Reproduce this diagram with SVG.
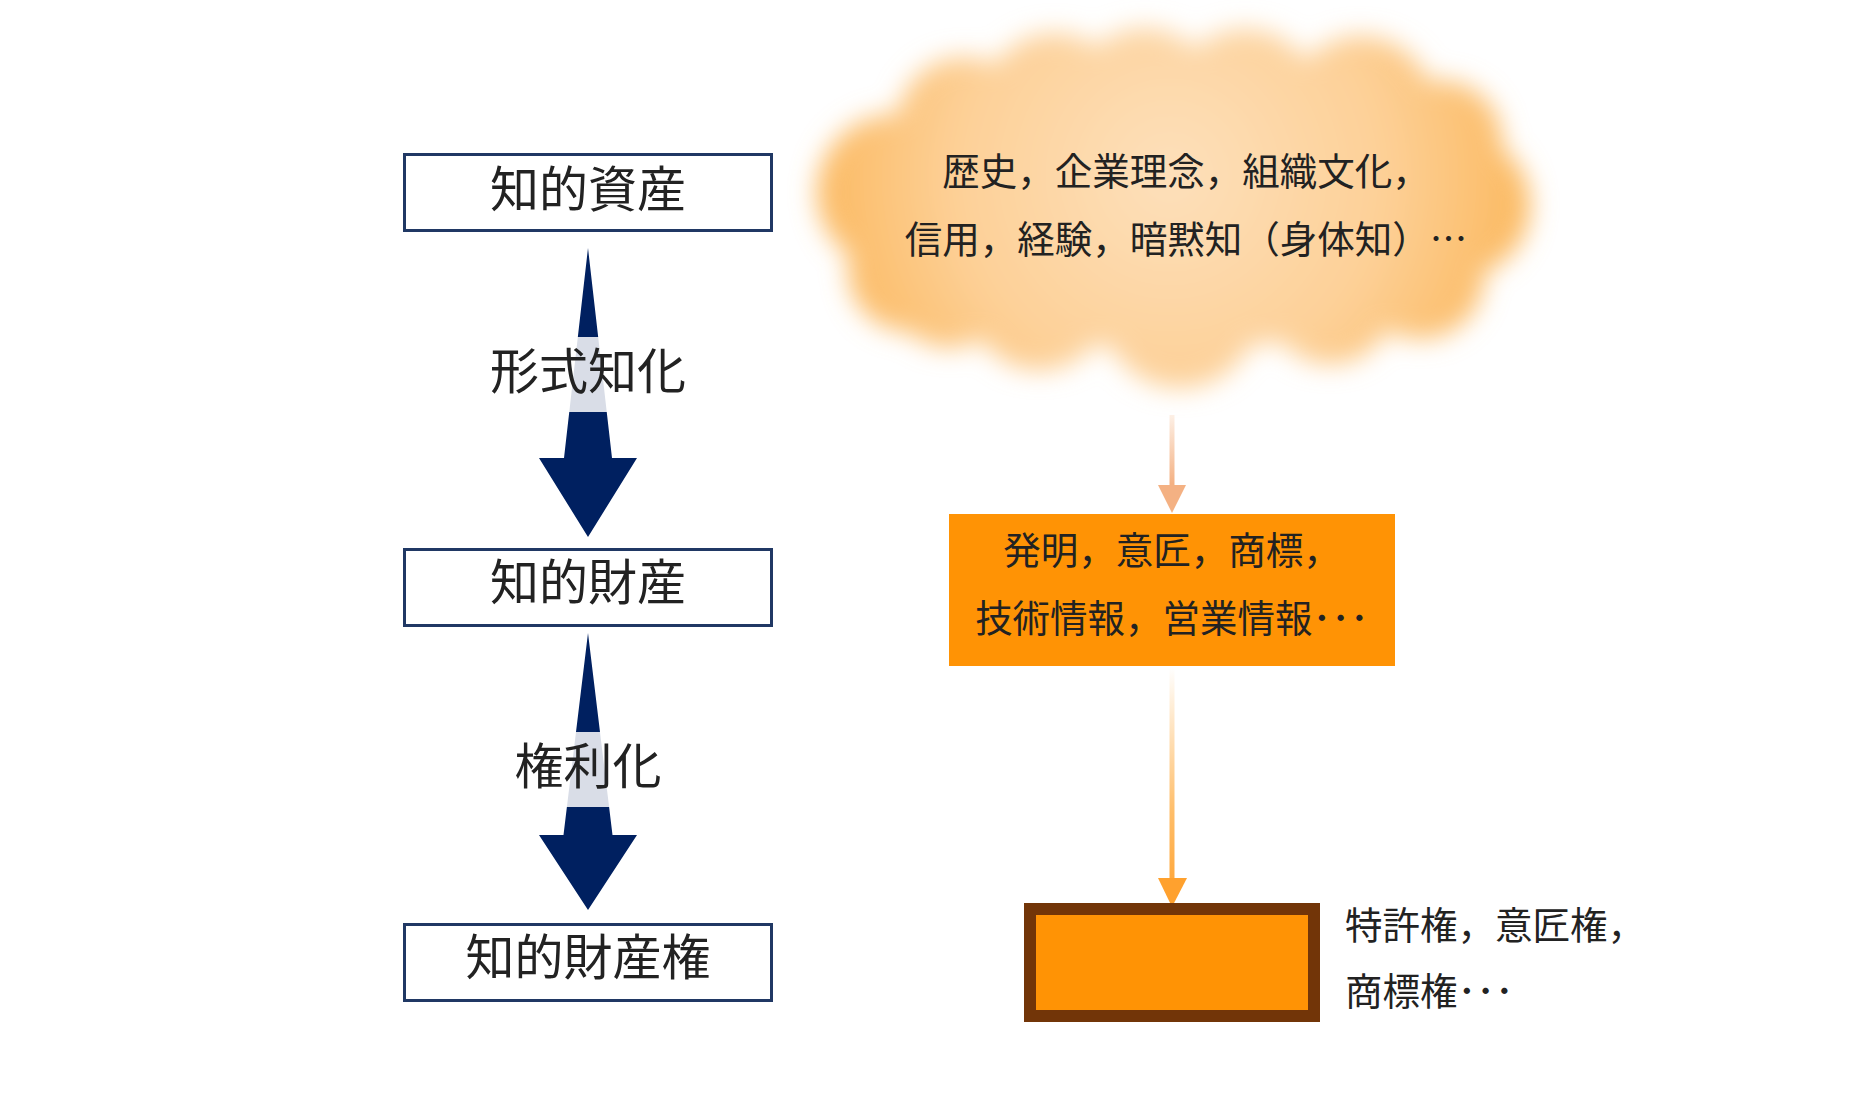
<svg xmlns="http://www.w3.org/2000/svg" width="1860" height="1098" viewBox="0 0 1860 1098">
<style>
.t{font-family:"Noto Sans CJK JP","Noto Sans CJK SC",sans-serif;fill:#222}
.big{font-size:49px;text-anchor:middle}
.mid{font-size:37.5px}
.box{fill:#fff;stroke:#203864;stroke-width:3}
.navy{fill:#002060}
.band{fill:#fff;fill-opacity:0.85}
</style>
<defs>
<filter id="soft" x="-20%" y="-30%" width="140%" height="160%">
<feGaussianBlur stdDeviation="13"/>
</filter>
<radialGradient id="cloudG" gradientUnits="userSpaceOnUse" cx="1170" cy="175" r="390">
<stop offset="0" stop-color="#fde0bb"/>
<stop offset="0.55" stop-color="#fdd097"/>
<stop offset="1" stop-color="#fbb454"/>
</radialGradient>
<linearGradient id="c1" gradientUnits="userSpaceOnUse" x1="0" y1="415" x2="0" y2="513">
<stop offset="0" stop-color="#fdf0e6"/>
<stop offset="0.7" stop-color="#f4b183"/>
<stop offset="1" stop-color="#f4b183"/>
</linearGradient>
<linearGradient id="c2" gradientUnits="userSpaceOnUse" x1="0" y1="667" x2="0" y2="907">
<stop offset="0" stop-color="#ffffff"/>
<stop offset="0.6" stop-color="#ffbe6a"/>
<stop offset="1" stop-color="#ffa12e"/>
</linearGradient>
</defs>

<g id="cloud">
<g fill="url(#cloudG)" filter="url(#soft)">
<ellipse cx="1175" cy="210" rx="305" ry="140"/>
<circle cx="895" cy="192" r="78"/>
<circle cx="910" cy="270" r="62"/>
<circle cx="965" cy="125" r="68"/>
<circle cx="1055" cy="105" r="72"/>
<circle cx="1145" cy="100" r="72"/>
<circle cx="1245" cy="103" r="74"/>
<circle cx="1360" cy="110" r="74"/>
<circle cx="1440" cy="142" r="62"/>
<circle cx="1458" cy="205" r="72"/>
<circle cx="1420" cy="275" r="64"/>
<circle cx="1330" cy="300" r="64"/>
<circle cx="1180" cy="310" r="78"/>
<circle cx="1040" cy="300" r="70"/>
<circle cx="950" cy="290" r="58"/>
</g>
<text class="t mid" x="1186" y="185" text-anchor="middle">歴史，企業理念，組織文化，</text>
<text class="t mid" x="1186" y="253" text-anchor="middle">信用，経験，暗黙知（身体知）…</text>
</g>

<g id="connectors">
<line x1="1172" y1="415" x2="1172" y2="487" stroke="url(#c1)" stroke-width="5"/>
<polygon points="1158,485 1186,485 1172,513" fill="#f4b183"/>
<line x1="1172" y1="667" x2="1172" y2="880" stroke="url(#c2)" stroke-width="5"/>
<polygon points="1158,878 1187,878 1172,907" fill="#ffa12e"/>
</g>

<g id="asset">
<rect class="box" x="404.5" y="154.5" width="367" height="76"/>
<text class="t big" x="588" y="207">知的資産</text>
</g>

<g id="arrow-formal">
<polygon class="navy" points="588,248 612,458 637,458 588,537 539,458 564,458"/>
<rect class="band" x="540" y="337" width="96" height="75"/>
<text class="t big" x="588" y="389">形式知化</text>
</g>

<g id="property">
<rect class="box" x="404.5" y="549.5" width="367" height="76"/>
<text class="t big" x="588" y="600">知的財産</text>
</g>

<g id="arrow-right">
<polygon class="navy" points="588,633 612.5,835 637,835 588,910 539,835 563.5,835"/>
<rect class="band" x="540" y="732" width="96" height="75"/>
<text class="t big" x="588" y="784">権利化</text>
</g>

<g id="ipr">
<rect class="box" x="404.5" y="924.5" width="367" height="76"/>
<text class="t big" x="588" y="975">知的財産権</text>
</g>

<g id="info">
<rect x="949" y="514" width="446" height="152" fill="#ff9305"/>
<text class="t mid" x="1172" y="564" text-anchor="middle">発明，意匠，商標，</text>
<text class="t mid" x="1172" y="632" text-anchor="middle">技術情報，営業情報･･･</text>
</g>

<g id="rights">
<rect x="1030" y="909" width="284" height="107" fill="#ff9305" stroke="#723508" stroke-width="12"/>
<text class="t mid" x="1345" y="939">特許権，意匠権，</text>
<text class="t mid" x="1345" y="1005">商標権･･･</text>
</g>
</svg>
